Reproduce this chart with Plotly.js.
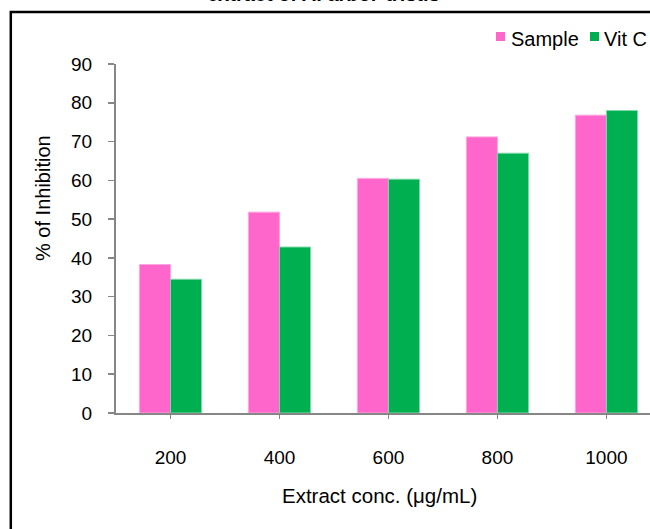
<!DOCTYPE html>
<html>
<head>
<meta charset="utf-8">
<script src="https://cdn.plot.ly/plotly-3.0.1.min.js"></script>
<style>
html,body{margin:0;padding:0;background:#fff;}
#chart{width:650px;height:529px;}
</style>
</head>
<body>
<div id="chart"></div>
<script>
// ---- data ----
const categories = ['200', '400', '600', '800', '1000'];
const sampleValues = [38.3, 51.8, 60.5, 71.2, 76.8];
const vitCValues = [34.5, 42.8, 60.3, 67.0, 78.0];
const seriesNames = ['Sample', 'Vit C'];
const yTickVals = [0, 10, 20, 30, 40, 50, 60, 70, 80, 90];
const titleText = 'extract of A. arbor-tristis';
const xTitleText = 'Extract conc. (\u03bcg/mL)';
const yTitleText = '% of Inhibition';

// ---- layout helpers (pixel -> paper) ----
const W = 650, H = 529;
const M = {l: 116, r: 0, t: 64, b: 116};
const PW = W - M.l - M.r, PH = H - M.t - M.b;
const px = x => (x - M.l) / PW;
const py = y => (H - M.b - y) / PH;

const FONT = 'Liberation Sans, Arial, Helvetica, sans-serif';
const pink = '#FF66CC', green = '#00B050';
const axisGray = '#868686';

const traces = [
  {type: 'bar', x: categories, y: sampleValues, name: seriesNames[0],
   marker: {color: pink, line: {color: '#FFA6DF', width: 1}}, hoverinfo: 'x+y'},
  {type: 'bar', x: categories, y: vitCValues, name: seriesNames[1],
   marker: {color: green, line: {color: '#7FD8A8', width: 1}}, hoverinfo: 'x+y'}
];

const layout = {
  width: W, height: H,
  margin: M,
  paper_bgcolor: '#fff', plot_bgcolor: '#fff',
  showlegend: false,
  barmode: 'group', bargap: 0.43, bargroupgap: 0,
  font: {family: FONT, color: '#000', size: 19},
  xaxis: {
    type: 'category', range: [-0.5, 4.4],
    showline: true, linecolor: axisGray, linewidth: 2,
    ticks: 'outside', ticklen: 4, tickwidth: 1.5, tickcolor: axisGray,
    ticklabelstandoff: 22,
    tickfont: {size: 19, family: FONT, color: '#000'},
    showgrid: false, zeroline: false, fixedrange: true
  },
  yaxis: {
    range: [0, 90], tickvals: yTickVals, ticktext: yTickVals.map(String),
    showline: true, linecolor: axisGray, linewidth: 2,
    ticks: 'outside', ticklen: 6, tickwidth: 1.5, tickcolor: axisGray,
    ticklabelstandoff: 12,
    tickfont: {size: 19, family: FONT, color: '#000'},
    showgrid: false, zeroline: false, fixedrange: true
  },
  shapes: [
    // chart border (partially outside the page)
    {type: 'rect', xref: 'paper', yref: 'paper',
     x0: px(10.8), x1: px(700), y0: py(560), y1: py(12),
     line: {color: '#000', width: 2.5}, fillcolor: 'rgba(0,0,0,0)', layer: 'below'},
    // legend keys
    {type: 'rect', xref: 'paper', yref: 'paper',
     x0: px(496), x1: px(505), y0: py(41), y1: py(32),
     line: {width: 0}, fillcolor: pink},
    {type: 'rect', xref: 'paper', yref: 'paper',
     x0: px(590), x1: px(599), y0: py(41), y1: py(32),
     line: {width: 0}, fillcolor: green}
  ],
  annotations: [
    {text: '<b>' + titleText + '</b>', xref: 'paper', yref: 'paper',
     x: px(323), y: py(-6.5), xanchor: 'center', yanchor: 'middle',
     showarrow: false, font: {size: 20, family: FONT, color: '#000'}},
    {text: xTitleText, xref: 'paper', yref: 'paper',
     x: px(379), y: py(495), xanchor: 'center', yanchor: 'middle',
     showarrow: false, font: {size: 20.5, family: FONT, color: '#000'}},
    {text: yTitleText, xref: 'paper', yref: 'paper', textangle: -90,
     x: px(43), y: py(198), xanchor: 'center', yanchor: 'middle',
     showarrow: false, font: {size: 20, family: FONT, color: '#000'}},
    {text: seriesNames[0], xref: 'paper', yref: 'paper',
     x: px(509), y: py(39), xanchor: 'left', yanchor: 'middle',
     showarrow: false, font: {size: 20, family: FONT, color: '#000'}},
    {text: seriesNames[1], xref: 'paper', yref: 'paper',
     x: px(602), y: py(39), xanchor: 'left', yanchor: 'middle',
     showarrow: false, font: {size: 20, family: FONT, color: '#000'}}
  ]
};

Plotly.newPlot('chart', traces, layout, {displayModeBar: false, staticPlot: true});
</script>
</body>
</html>
